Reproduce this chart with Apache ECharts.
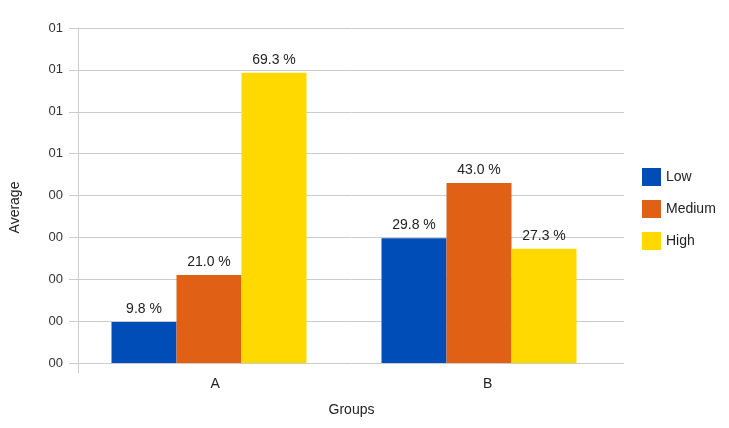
<!DOCTYPE html>
<html>
<head>
<meta charset="utf-8">
<script src="https://cdn.jsdelivr.net/npm/echarts@6/dist/echarts.min.js"></script>
<style>
html,body{margin:0;padding:0;background:#fff;}
#c{width:729px;height:428px;}
</style>
</head>
<body>
<div id="c"></div>
<script>
const categories = ['A', 'B'];
const seriesNames = ['Low', 'Medium', 'High'];
const lowValues = [0.098, 0.298];
const mediumValues = [0.210, 0.430];
const highValues = [0.693, 0.273];
const yMin = 0, yMax = 0.8, yStep = 0.1;

const colors = ['#004DB8', '#E06115', '#FFD900'];
const font = '"Liberation Sans", Arial, sans-serif';
const seriesValues = [lowValues, mediumValues, highValues];

const chart = echarts.init(document.getElementById('c'));
chart.setOption({
  animation: false,
  backgroundColor: '#fff',
  textStyle: { fontFamily: font },
  grid: [
    { left: 78, right: 105, top: 28, bottom: 65, containLabel: false },
    { left: 74, right: 115, top: 28, bottom: 65, containLabel: false },
    { left: 78, right: 105, top: 28, bottom: 55, containLabel: false }
  ],
  legend: {
    orient: 'vertical',
    left: 637,
    top: 163,
    icon: 'rect',
    itemWidth: 19,
    itemHeight: 18,
    itemGap: 14,
    data: seriesNames,
    textStyle: { fontFamily: font, fontSize: 14, color: '#222' }
  },
  xAxis: [
    {
      gridIndex: 0,
      type: 'category',
      data: categories,
      name: 'Groups',
      nameLocation: 'middle',
      nameGap: 40,
      nameTextStyle: { fontFamily: font, fontSize: 14, color: '#222' },
      axisLine: { show: false },
      axisTick: { show: false },
      axisLabel: { margin: 14, fontFamily: font, fontSize: 14, color: '#222' }
    },
    {
      gridIndex: 1,
      type: 'category',
      data: categories,
      axisLine: { show: false },
      axisTick: { show: false },
      axisLabel: { show: false }
    },
    {
      gridIndex: 2,
      type: 'category',
      data: categories,
      axisLine: { show: false },
      axisTick: { show: false },
      axisLabel: { show: false }
    }
  ],
  yAxis: [
    {
      gridIndex: 0,
      type: 'value',
      min: yMin,
      max: yMax,
      interval: yStep,
      name: 'Average',
      nameLocation: 'middle',
      nameGap: 57,
      nameTextStyle: { fontFamily: font, fontSize: 14, color: '#222', padding: [0, 0, 0, -24] },
      axisLine: { show: false },
      axisTick: { show: true, length: 10, lineStyle: { color: '#ccc' } },
      axisLabel: {
        margin: 16,
        fontFamily: font,
        fontSize: 13,
        color: '#333',
        formatter: function (v) { return String(Math.round(v)).padStart(2, '0'); }
      },
      splitLine: { show: true, lineStyle: { color: '#ccc', width: 1 } }
    },
    {
      gridIndex: 1,
      type: 'value',
      min: yMin,
      max: yMax,
      interval: yStep,
      axisLine: { show: false },
      axisTick: { show: false },
      axisLabel: { show: false },
      splitLine: { show: false }
    },
    {
      gridIndex: 2,
      type: 'value',
      axisLine: { show: true, lineStyle: { color: '#ccc' } },
      axisTick: { show: false },
      axisLabel: { show: false },
      splitLine: { show: false }
    }
  ],
  series: seriesNames.map(function (name, i) {
    return {
      name: name,
      type: 'bar',
      xAxisIndex: 1,
      yAxisIndex: 1,
      data: seriesValues[i],
      barWidth: 65,
      barGap: '0%',
      itemStyle: { color: colors[i] },
      label: {
        show: true,
        position: 'top',
        distance: 6,
        fontFamily: font,
        fontSize: 14,
        color: '#222',
        formatter: function (p) { return (p.value * 100).toFixed(1) + ' %'; }
      }
    };
  })
});
</script>
</body>
</html>
